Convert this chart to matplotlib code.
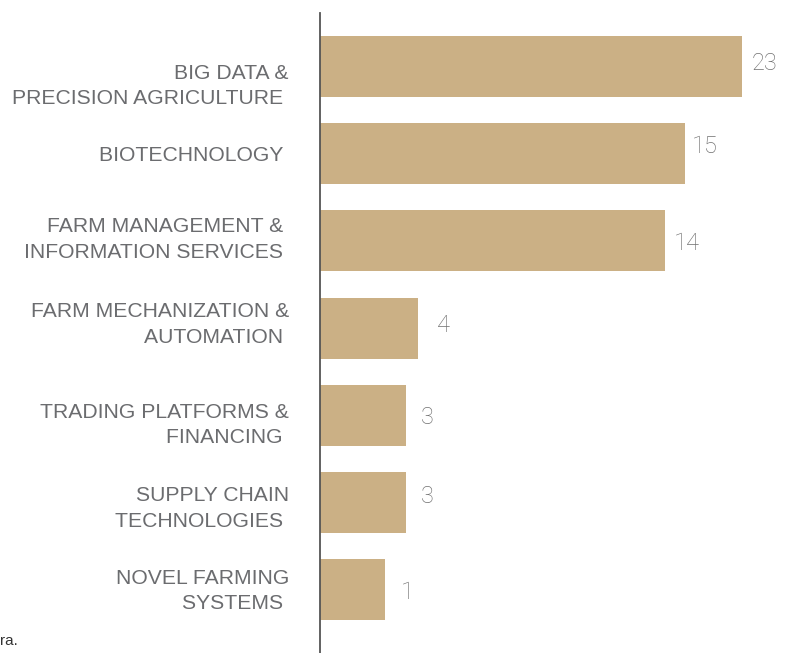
import matplotlib.pyplot as plt
import numpy as np

# categories, top to bottom
categories = [
    "BIG DATA &\nPRECISION AGRICULTURE ",
    "BIOTECHNOLOGY ",
    "FARM MANAGEMENT & \nINFORMATION SERVICES ",
    "FARM MECHANIZATION &\nAUTOMATION ",
    "TRADING PLATFORMS &\nFINANCING ",
    "SUPPLY CHAIN\nTECHNOLOGIES ",
    "NOVEL FARMING\nSYSTEMS ",
]
# bar lengths as drawn in the source (not proportional to the counts)
bar_lengths = [42.2, 36.5, 34.5, 9.8, 8.6, 8.6, 6.5]
# numbers printed next to the bars
counts = [23, 15, 14, 4, 3, 3, 1]

bar_color = "#cbb085"
label_color = "#6b6c6f"
value_color = "#707070"

fig = plt.figure(figsize=(7.88, 6.53), dpi=100)
ax = fig.add_axes([320 / 788, 0, 468 / 788, 640 / 653])

y = np.arange(len(categories))
bars = ax.barh(y, bar_lengths, height=0.7, color=bar_color)

ax.set_xlim(0, 46.8)
ax.set_ylim(6.728, -0.614)

for s in ["top", "right", "bottom"]:
    ax.spines[s].set_visible(False)
ax.spines["left"].set_color("#555555")
ax.spines["left"].set_linewidth(1.3)
ax.set_xticks([])
ax.set_yticks([])

# small vertical nudges so the labels sit like in the original
label_dy = [-19.5, -2, 1.5, 3.5, -9.5, -6, -1.5]
value_dy = [3.5, 7.5, -2.5, 2.5, -2.5, 5.5, -2.5]
value_dx = [10, 7, 9, 19, 15, 15, 16]

for i, (cat, length, n) in enumerate(zip(categories, bar_lengths, counts)):
    ax.annotate(cat, xy=(0, i), xytext=(-31, label_dy[i]),
                textcoords="offset pixels", ha="right", va="center",
                multialignment="right", fontsize=15.2, color=label_color,
                family="Liberation Sans", linespacing=1.42)
    ax.annotate(str(n), xy=(length, i), xytext=(value_dx[i], value_dy[i]),
                textcoords="offset pixels", ha="left", va="center",
                fontsize=17, color=value_color, family="Roboto",
                fontweight="light")

fig.text(0, 12 / 653, "ra.", fontsize=11, color="#333333",
         family="Liberation Sans", ha="left", va="center")

fig.savefig("out.png", dpi=100)
